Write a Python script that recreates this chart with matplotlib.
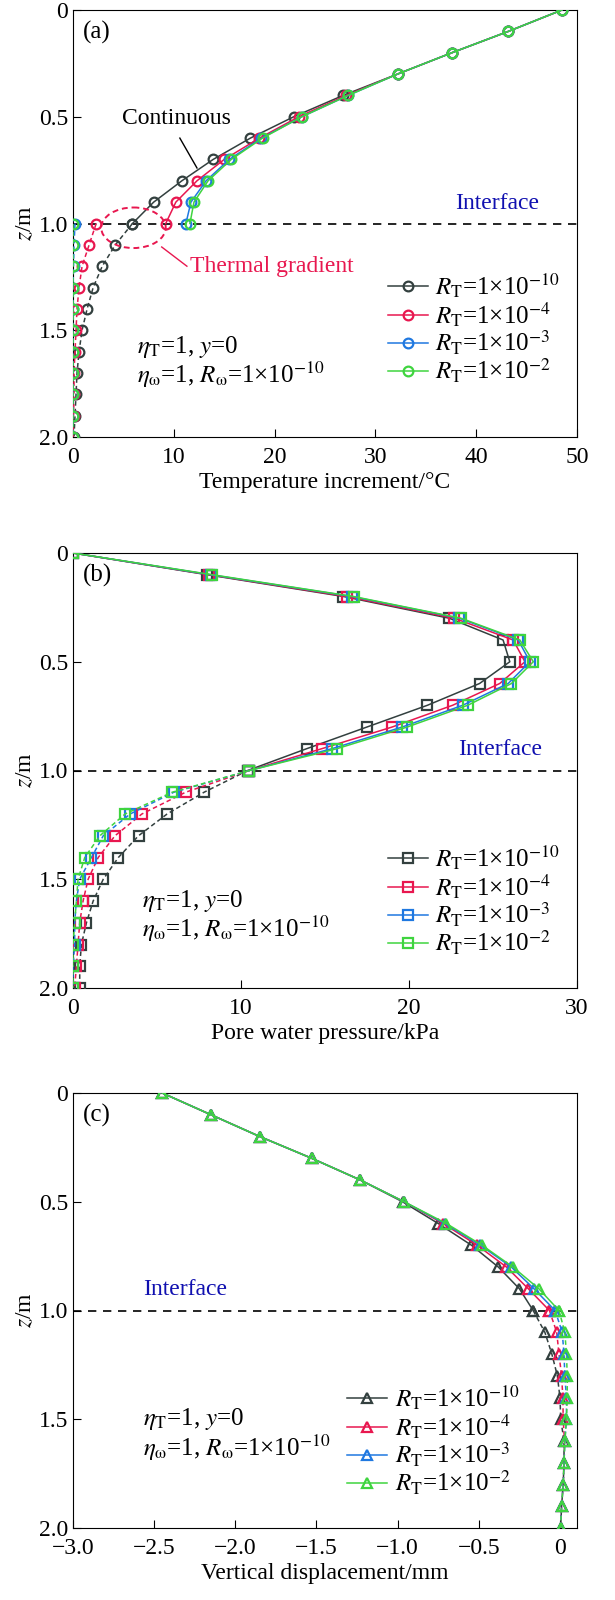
import numpy as np
import matplotlib
matplotlib.use("Agg")
import matplotlib.pyplot as plt
from matplotlib.patches import Ellipse

plt.rcParams["font.family"] = ["Liberation Serif", "DejaVu Serif"]
plt.rcParams["mathtext.fontset"] = "stix"
plt.rcParams["font.size"] = 16

# depth points; z = 1.0 appears twice (above / below the interface)
z_up = [0.0, 0.1, 0.2, 0.3, 0.4, 0.5, 0.6, 0.7, 0.8, 0.9, 1.0]
z_dn = [1.0, 1.1, 1.2, 1.3, 1.4, 1.5, 1.6, 1.7, 1.8, 1.9, 2.0]

labels = [r"$R_{\rm T}$=1×10$^{-10}$", r"$R_{\rm T}$=1×10$^{-4}$",
          r"$R_{\rm T}$=1×10$^{-3}$", r"$R_{\rm T}$=1×10$^{-2}$"]
colors = ["#33403f", "#e8174f", "#1f78e0", "#3fd43f"]

# (a) temperature increment, degC
temp_up = [
    [48.5, 43.2, 37.6, 32.2, 26.8, 21.9, 17.6, 13.9, 10.8, 8.0, 5.9],
    [48.5, 43.2, 37.6, 32.2, 27.1, 22.4, 18.5, 15.0, 12.3, 10.2, 9.2],
    [48.5, 43.2, 37.6, 32.2, 27.3, 22.7, 18.7, 15.5, 13.2, 11.7, 11.2],
    [48.5, 43.2, 37.6, 32.2, 27.3, 22.7, 18.8, 15.7, 13.4, 12.0, 11.6],
]
temp_dn = [
    [5.9, 4.2, 2.9, 2.0, 1.4, 0.9, 0.6, 0.4, 0.3, 0.2, 0.1],
    [2.3, 1.6, 0.9, 0.6, 0.4, 0.3, 0.2, 0.1, 0.1, 0.05, 0.0],
    [0.2, 0.1, 0.05, 0.0, 0.0, 0.0, 0.0, 0.0, 0.0, 0.0, 0.0],
    [0.0, 0.0, 0.0, 0.0, 0.0, 0.0, 0.0, 0.0, 0.0, 0.0, 0.0],
]

# (b) pore water pressure, kPa
pwp_up = [
    [0.0, 8.0, 16.1, 22.4, 25.6, 26.0, 24.2, 21.1, 17.5, 13.9, 10.4],
    [0.0, 8.1, 16.3, 22.7, 26.2, 26.9, 25.4, 22.6, 19.0, 14.8, 10.5],
    [0.0, 8.2, 16.6, 23.0, 26.5, 27.2, 25.9, 23.2, 19.6, 15.4, 10.5],
    [0.0, 8.3, 16.7, 23.1, 26.6, 27.4, 26.1, 23.5, 19.9, 15.7, 10.5],
]
pwp_dn = [
    [10.4, 7.8, 5.6, 3.9, 2.7, 1.8, 1.2, 0.8, 0.5, 0.4, 0.4],
    [10.5, 6.7, 4.1, 2.5, 1.5, 0.9, 0.6, 0.4, 0.3, 0.2, 0.1],
    [10.5, 6.0, 3.4, 1.8, 1.1, 0.4, 0.2, 0.1, 0.1, 0.0, 0.0],
    [10.5, 5.9, 3.1, 1.6, 0.7, 0.3, 0.2, 0.1, 0.0, 0.0, 0.0],
]

# (c) vertical displacement, mm
disp_up = [
    [-2.45, -2.15, -1.85, -1.53, -1.23, -0.97, -0.75, -0.545, -0.38, -0.25, -0.165],
    [-2.45, -2.15, -1.85, -1.53, -1.23, -0.96, -0.72, -0.51, -0.33, -0.195, -0.065],
    [-2.45, -2.15, -1.85, -1.53, -1.23, -0.96, -0.71, -0.49, -0.30, -0.16, -0.03],
    [-2.45, -2.15, -1.85, -1.53, -1.23, -0.96, -0.70, -0.48, -0.29, -0.13, -0.006],
]
disp_dn = [
    [-0.165, -0.093, -0.05, -0.016, 0.0, 0.005, 0.025, 0.025, 0.02, 0.01, 0.004],
    [-0.065, -0.02, -0.006, 0.01, 0.018, 0.02, 0.028, 0.025, 0.02, 0.01, 0.004],
    [-0.03, 0.014, 0.025, 0.03, 0.04, 0.04, 0.03, 0.025, 0.02, 0.01, 0.004],
    [-0.006, 0.03, 0.04, 0.045, 0.045, 0.04, 0.03, 0.025, 0.02, 0.01, 0.004],
]

FS = 16


def draw(ax, up, dn, marker, xlim, xticks, xlabel, tag):
    for i in range(4):
        ax.plot(up[i], z_up, color=colors[i], lw=1.1, marker=marker, ms=7,
                mfc="none", mew=1.6, label=labels[i], zorder=3 + i)
        ax.plot(dn[i], z_dn, color=colors[i], lw=1.1, ls=(0, (3, 2)),
                marker=marker, ms=7, mfc="none", mew=1.6, zorder=3 + i)
    ax.axhline(1.0, color="black", lw=1.2, ls=(0, (5, 4)), zorder=2)
    ax.set_xlim(*xlim)
    ax.set_ylim(2.0, 0)
    ax.set_xticks(xticks)
    ax.set_yticks([0, 0.5, 1.0, 1.5, 2.0])
    ax.set_yticklabels(["0", "0.5", "1.0", "1.5", "2.0"])
    ax.tick_params(direction="in", length=6, labelsize=FS + 1)
    ax.tick_params(axis="x", pad=7)
    ax.set_xlabel(xlabel, fontsize=FS + 1, labelpad=3)
    ax.set_ylabel(r"$z$/m", fontsize=FS + 1, labelpad=2)
    ax.text(0.02, 0.975, tag, transform=ax.transAxes, fontsize=FS + 2,
            va="top", ha="left")


def legend(ax, anchor):
    ax.legend(loc="lower right", frameon=False, fontsize=FS + 2,
              handlelength=1.6, handletextpad=0.3, labelspacing=0.0,
              borderaxespad=0.3, bbox_to_anchor=anchor)


fig = plt.figure(figsize=(6.15, 16), dpi=100)
W, H = 615, 1600
boxes = [(10, 437), (553, 988), (1093, 1528)]
axs = [fig.add_axes([73 / W, 1 - b / H, 504 / W, (b - t) / H]) for t, b in boxes]

ax = axs[0]
draw(ax, temp_up, temp_dn, "o", (0, 50), [0, 10, 20, 30, 40, 50],
     "Temperature increment/°C", "(a)")
ax.text(10.3, 0.51, "Continuous", ha="center", va="center", fontsize=FS + 1)
ax.plot([10.6, 12.3], [0.6, 0.74], color="black", lw=1)
ax.add_patch(Ellipse((6.0, 1.02), 6.4, 0.19, fill=False, ec=colors[1],
                     ls=(0, (3, 2)), lw=1.4, zorder=10))
ax.plot([8.8, 11.3], [1.11, 1.2], color=colors[1], lw=1)
ax.text(11.6, 1.2, "Thermal gradient", color=colors[1], ha="left",
        va="center", fontsize=FS + 1)
ax.text(42.1, 0.93, "Interface", color="#1010b0", ha="center", fontsize=FS + 1)
ax.text(6.3, 1.58, r"$\eta_{\rm T}$=1, $y$=0", fontsize=FS + 2, va="center")
ax.text(6.3, 1.71, r"$\eta_{\rm \omega}$=1, $R_{\rm \omega}$=1×10$^{-10}$",
        fontsize=FS + 2, va="center")
legend(ax, (1.0, 0.08))

ax = axs[1]
draw(ax, pwp_up, pwp_dn, "s", (0, 30), [0, 10, 20, 30],
     "Pore water pressure/kPa", "(b)")
ax.text(25.4, 0.93, "Interface", color="#1010b0", ha="center", fontsize=FS + 1)
ax.text(4.1, 1.6, r"$\eta_{\rm T}$=1, $y$=0", fontsize=FS + 2, va="center")
ax.text(4.1, 1.73, r"$\eta_{\rm \omega}$=1, $R_{\rm \omega}$=1×10$^{-10}$",
        fontsize=FS + 2, va="center")
legend(ax, (1.0, 0.03))

ax = axs[2]
draw(ax, disp_up, disp_dn, "^", (-3.0, 0.105),
     [-3.0, -2.5, -2.0, -1.5, -1.0, -0.5, 0],
     "Vertical displacement/mm", "(c)")
ax.set_xticklabels(["−3.0", "−2.5", "−2.0", "−1.5", "−1.0", "−0.5", "0"])
ax.text(-2.31, 0.93, "Interface", color="#1010b0", ha="center", fontsize=FS + 1)
ax.text(-2.57, 1.5, r"$\eta_{\rm T}$=1, $y$=0", fontsize=FS + 2, va="center")
ax.text(-2.57, 1.63, r"$\eta_{\rm \omega}$=1, $R_{\rm \omega}$=1×10$^{-10}$",
        fontsize=FS + 2, va="center")
legend(ax, (0.92, 0.03))

fig.savefig("out.png", dpi=100)
